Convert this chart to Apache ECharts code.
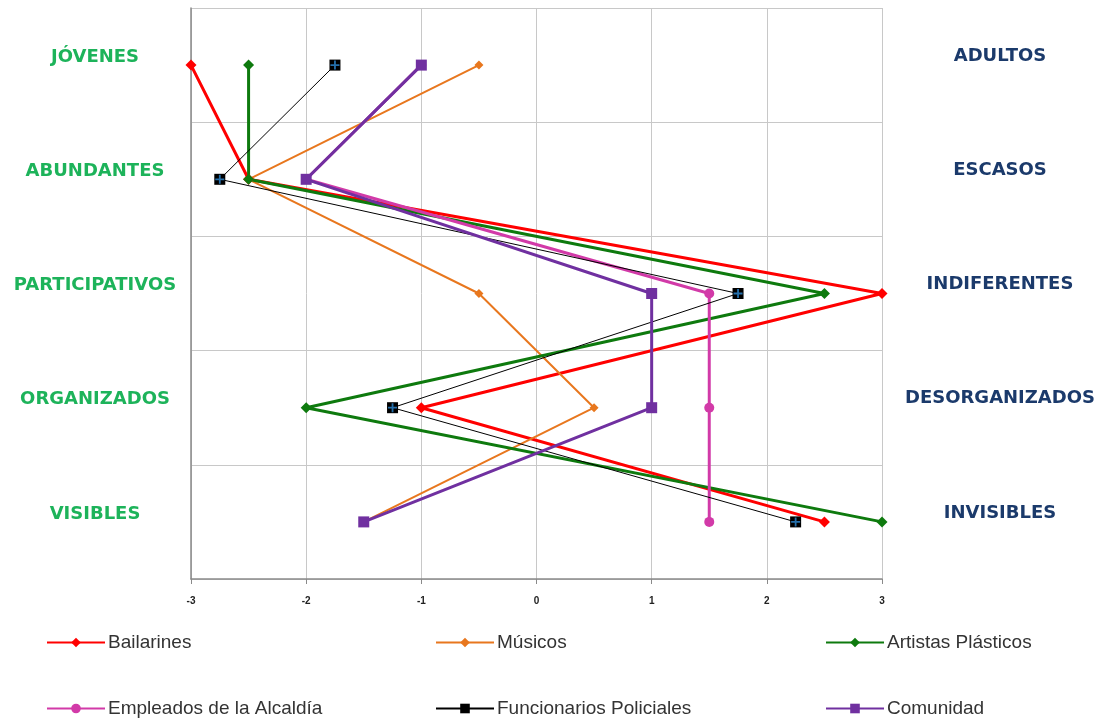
<!DOCTYPE html>
<html><head><meta charset="utf-8">
<script src="https://cdn.jsdelivr.net/npm/echarts@6/dist/echarts.min.js"></script>
<style>html,body{margin:0;padding:0;background:#fff}#c{width:1100px;height:719px}</style>
</head><body><div id="c"></div>
<script>
const leftCategories = ['JÓVENES','ABUNDANTES','PARTICIPATIVOS','ORGANIZADOS','VISIBLES'];
const rightCategories = ['ADULTOS','ESCASOS','INDIFERENTES','DESORGANIZADOS','INVISIBLES'];
const xTicks = [-3,-2,-1,0,1,2,3];
const bailarines = [-3, -2.5, 3, -1, 2.5];
const musicos = [-0.5, -2.5, -0.5, 0.5, -1.5];
const artistas = [-2.5, -2.5, 2.5, -2, 3];
const empleados = [-1, -2, 1.5, 1.5, 1.5];
const funcionarios = [-1.75, -2.75, 1.75, -1.25, 2.25];
const comunidad = [-1, -2, 1, 1, -1.5];
const seriesNames = ['Bailarines','Músicos','Artistas Plásticos','Empleados de la Alcaldía','Funcionarios Policiales','Comunidad'];

const styles = [
  {color:'#FF0000', width:3, symbol:'diamond', size:11},
  {color:'#E8771E', width:2, symbol:'diamond', size:9},
  {color:'#0E7A0E', width:3, symbol:'diamond', size:11},
  {color:'#D23AA8', width:3, symbol:'circle', size:10},
  {color:'#000000', width:1, symbol:'rect', size:11},
  {color:'#7030A0', width:3, symbol:'rect', size:11}
];
const dataSets = [bailarines, musicos, artistas, empleados, funcionarios, comunidad];

const series = dataSets.map((d,i)=>({
  name: seriesNames[i], type:'line', yAxisIndex:0,
  data: d.map((v,j)=>[v, leftCategories[j]]),
  symbol: styles[i].symbol, symbolSize: styles[i].size,
  lineStyle:{color:styles[i].color, width:styles[i].width},
  itemStyle:{color:styles[i].color},
  animation:false
}));
// blue cross inside the black square markers of Funcionarios Policiales
series.push({
  name:'_cross', type:'scatter', yAxisIndex:0, silent:true,
  data: funcionarios.map((v,j)=>[v, leftCategories[j]]),
  symbol:'path://M4,0 L6,0 L6,4 L10,4 L10,6 L6,6 L6,10 L4,10 L4,6 L0,6 L0,4 L4,4 Z',
  symbolSize:9, itemStyle:{color:'#2E8BD6'}, z:5, animation:false
});

const legendPos = [[46,633],[435,633],[825,633],[46,699],[435,699],[825,699]];
const legends = seriesNames.map((n,i)=>({
  data:[n], left:legendPos[i][0], top:legendPos[i][1], padding:0,
  itemWidth:58, itemHeight:12, itemGap:0,
  textStyle:{fontFamily:'Liberation Sans, sans-serif', fontSize:19, color:'#333', padding:[0,0,0,-2]},
  selectedMode:false
}));

const chart = echarts.init(document.getElementById('c'));
chart.setOption({
  backgroundColor:'#fff',
  animation:false,
  grid:{left:191, right:218, top:8, bottom:140, containLabel:false},
  legend: legends,
  xAxis:{
    type:'value', min:-3, max:3, interval:1,
    axisLine:{show:true, lineStyle:{color:'#8a8a8a', width:1.5}},
    axisTick:{show:true, length:5, lineStyle:{color:'#8a8a8a'}},
    splitLine:{show:true, lineStyle:{color:'#c8c8c8', width:1}},
    axisLabel:{margin:17, fontSize:10, fontWeight:'bold', color:'#222', fontFamily:'Liberation Sans, sans-serif',
      formatter:v=> xTicks.includes(v)? String(v):''}
  },
  yAxis:[{
    type:'category', data:leftCategories, inverse:true, position:'left',
    axisLine:{show:true, onZero:false, lineStyle:{color:'#8a8a8a', width:1.5}},
    axisTick:{show:false},
    splitLine:{show:true, lineStyle:{color:'#c8c8c8', width:1}},
    axisLabel:{margin:96, align:'center', verticalAlign:'bottom', lineHeight:16, fontSize:18, fontWeight:'bold', color:'#1DB35A', fontFamily:'DejaVu Sans, sans-serif'}
  },{
    type:'category', data:rightCategories, inverse:true, position:'right',
    axisLine:{show:false, onZero:false}, axisTick:{show:false}, splitLine:{show:false},
    axisLabel:{margin:118, align:'center', verticalAlign:'bottom', lineHeight:18, fontSize:18, fontWeight:'bold', color:'#1B3A6B', fontFamily:'DejaVu Sans, sans-serif'}
  }],
  series: series
});
</script></body></html>
